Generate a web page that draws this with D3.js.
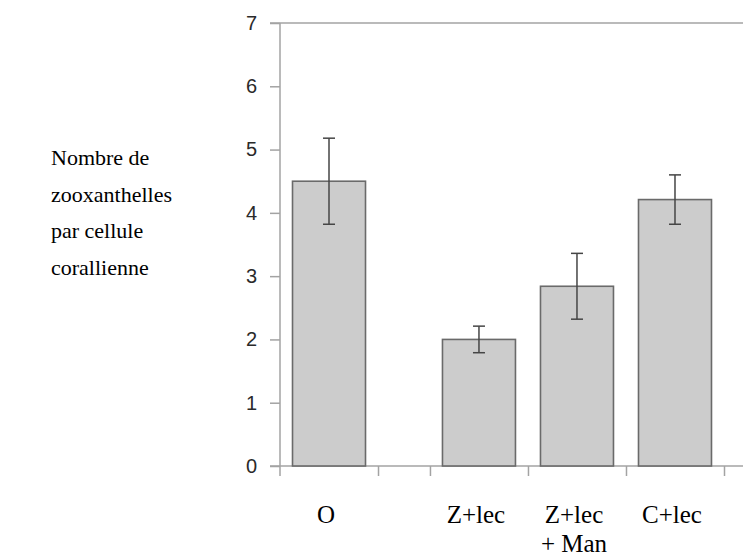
<!DOCTYPE html>
<html>
<head>
<meta charset="utf-8">
<script src="https://cdn.jsdelivr.net/npm/d3@7"></script>
<style>
  html, body { margin: 0; padding: 0; background: #fff; }
  svg { display: block; }
</style>
</head>
<body>
<svg id="chart" width="743" height="556"></svg>
<script>
// ---- data ----
const categories = ["O", "Z+lec", "Z+lec\n+ Man", "C+lec"];
const values = [4.5, 2.0, 2.84, 4.21];
const errors = [0.68, 0.21, 0.52, 0.39];
const yTicks = [0, 1, 2, 3, 4, 5, 6, 7];
const yTitleLines = ["Nombre de", "zooxanthelles", "par cellule", "corallienne"];

// ---- layout ----
const svg = d3.select("#chart");
const axisColor = "#a3a3a3";
const gapSlots = 0.53;
const slotStart = i => (i === 0 ? 0 : i + gapSlots);
const nSlots = categories.length + gapSlots;

const x = d3.scaleLinear().domain([0, nSlots]).range([280, 724]);
const y = d3.scaleLinear().domain([0, 7]).range([466, 23]);

const barW = 73;

// top line at max
svg.append("line")
  .attr("x1", 270).attr("x2", 743)
  .attr("y1", y(7)).attr("y2", y(7))
  .attr("stroke", axisColor).attr("stroke-width", 1.5);

// x baseline
svg.append("line")
  .attr("x1", 270).attr("x2", 743)
  .attr("y1", y(0)).attr("y2", y(0))
  .attr("stroke", axisColor).attr("stroke-width", 1.5);

// y axis line
svg.append("line")
  .attr("x1", x(0)).attr("x2", x(0))
  .attr("y1", y(7)).attr("y2", y(0) + 10)
  .attr("stroke", axisColor).attr("stroke-width", 1.5);

// y axis ticks
const yAxis = d3.axisLeft(y).tickValues(yTicks).tickSize(10).tickPadding(13).tickFormat(d3.format("d"));
const gy = svg.append("g").attr("transform", `translate(${x(0)},0)`).call(yAxis);
gy.select(".domain").remove();
gy.selectAll(".tick line").attr("stroke", axisColor).attr("stroke-width", 1.5);
gy.selectAll(".tick text")
  .attr("font-family", "'Liberation Sans', Arial, sans-serif")
  .attr("font-size", 20).attr("fill", "#2a2a2a");

// x boundary ticks
const boundaries = [1, slotStart(1)].concat(categories.slice(1).map((c, i) => slotStart(i + 1) + 1));
const xAxis = d3.axisBottom(x).tickValues(boundaries).tickSize(10).tickFormat("");
const gx = svg.append("g").attr("transform", `translate(0,${y(0)})`).call(xAxis);
gx.select(".domain").remove();
gx.selectAll(".tick line").attr("stroke", axisColor).attr("stroke-width", 1.5);

// bars
const centers = categories.map((c, i) => x(slotStart(i) + 0.5));
svg.append("g").selectAll("rect").data(values).join("rect")
  .attr("x", (d, i) => centers[i] - barW / 2)
  .attr("y", d => y(d))
  .attr("width", barW)
  .attr("height", d => y(0) - y(d))
  .attr("fill", "#cccccc")
  .attr("stroke", "#6a6a6a")
  .attr("stroke-width", 1.6);

// error bars
const eb = svg.append("g").attr("stroke", "#454545").attr("stroke-width", 1.5);
values.forEach((v, i) => {
  const cx = centers[i];
  eb.append("line").attr("x1", cx).attr("x2", cx).attr("y1", y(v + errors[i])).attr("y2", y(v - errors[i]));
  eb.append("line").attr("x1", cx - 6).attr("x2", cx + 6).attr("y1", y(v + errors[i])).attr("y2", y(v + errors[i]));
  eb.append("line").attr("x1", cx - 6).attr("x2", cx + 6).attr("y1", y(v - errors[i])).attr("y2", y(v - errors[i]));
});

// x category labels
const xl = svg.append("g")
  .attr("font-family", "'Liberation Serif', 'Times New Roman', serif")
  .attr("font-size", 25).attr("fill", "#000");
categories.forEach((c, i) => {
  const t = xl.append("text").attr("text-anchor", "middle");
  c.split("\n").forEach((line, j) => {
    t.append("tspan").attr("x", centers[i] - 3).attr("y", 523 + j * 29).text(line);
  });
});

// y title
const yt = svg.append("text")
  .attr("font-family", "'Liberation Serif', 'Times New Roman', serif")
  .attr("font-size", 22).attr("fill", "#000");
yTitleLines.forEach((line, j) => {
  yt.append("tspan").attr("x", 51).attr("y", 165 + j * 36.5).text(line);
});
</script>
</body>
</html>
